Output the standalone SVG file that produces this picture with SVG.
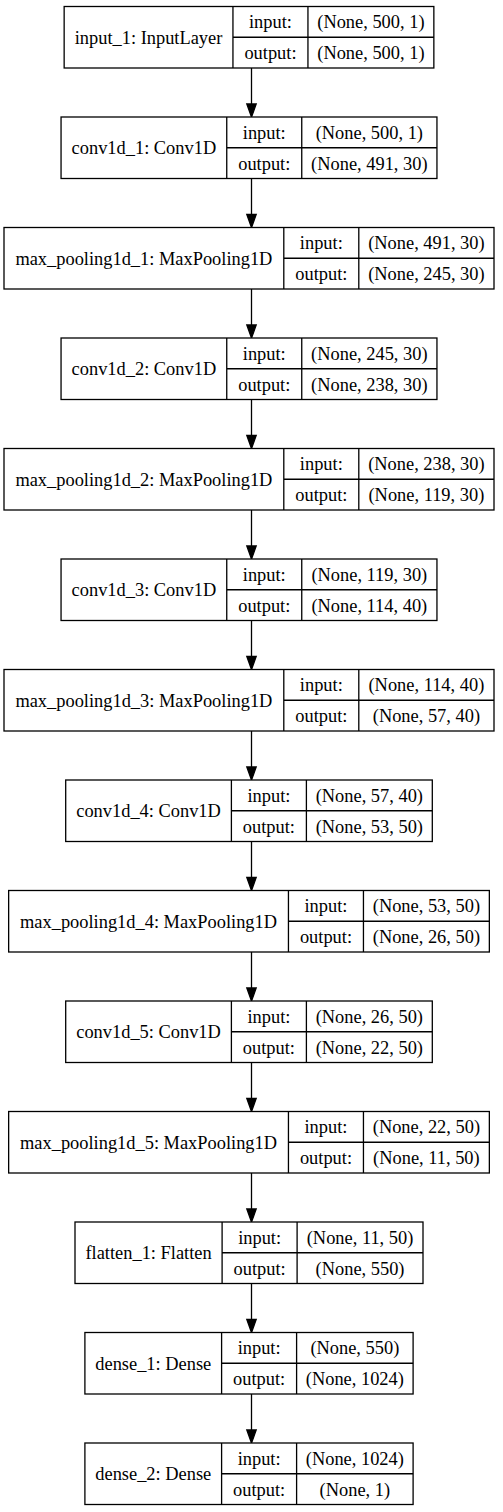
<svg xmlns="http://www.w3.org/2000/svg" width="503" height="1512" viewBox="0 0 503 1512">
<style>
.n rect{fill:#fff;stroke:#000;stroke-width:1.3}
.n path{fill:none;stroke:#000;stroke-width:1.3}
text{font-family:"Liberation Serif","Times New Roman",serif;font-size:18.4px;fill:#000;text-anchor:middle}
.e line{stroke:#000;stroke-width:1.3}
.e polygon{fill:#000;stroke:#000;stroke-width:1.3}
</style>
<rect width="503" height="1512" fill="#fff"/>
<g class="e" id="edges">
<line x1="251.5" y1="68" x2="251.5" y2="104"/><polygon points="246.8,104 256.2,104 251.5,117"/>
<line x1="251.5" y1="178.5" x2="251.5" y2="214.5"/><polygon points="246.8,214.5 256.2,214.5 251.5,227.5"/>
<line x1="251.5" y1="289" x2="251.5" y2="325"/><polygon points="246.8,325 256.2,325 251.5,338"/>
<line x1="251.5" y1="399.5" x2="251.5" y2="435.5"/><polygon points="246.8,435.5 256.2,435.5 251.5,448.5"/>
<line x1="251.5" y1="510" x2="251.5" y2="546"/><polygon points="246.8,546 256.2,546 251.5,559"/>
<line x1="251.5" y1="620.5" x2="251.5" y2="656.5"/><polygon points="246.8,656.5 256.2,656.5 251.5,669.5"/>
<line x1="251.5" y1="731" x2="251.5" y2="767"/><polygon points="246.8,767 256.2,767 251.5,780"/>
<line x1="251.5" y1="841.5" x2="251.5" y2="877.5"/><polygon points="246.8,877.5 256.2,877.5 251.5,890.5"/>
<line x1="251.5" y1="952" x2="251.5" y2="988"/><polygon points="246.8,988 256.2,988 251.5,1001"/>
<line x1="251.5" y1="1062.5" x2="251.5" y2="1098.5"/><polygon points="246.8,1098.5 256.2,1098.5 251.5,1111.5"/>
<line x1="251.5" y1="1173" x2="251.5" y2="1209"/><polygon points="246.8,1209 256.2,1209 251.5,1222"/>
<line x1="251.5" y1="1283.5" x2="251.5" y2="1319.5"/><polygon points="246.8,1319.5 256.2,1319.5 251.5,1332.5"/>
<line x1="251.5" y1="1394" x2="251.5" y2="1430"/><polygon points="246.8,1430 256.2,1430 251.5,1443"/>
</g>

<g class="n" id="input_1">
<rect x="64.15" y="6.5" width="369.7" height="61.5"/>
<path d="M232.95,6.5V68M307.95,6.5V68M232.95,37.25H433.85"/>
<text x="148.55" y="43.5">input_1: InputLayer</text>
<text x="270.45" y="28">input:</text><text x="270.45" y="59">output:</text>
<text x="370.9" y="28">(None, 500, 1)</text><text x="370.9" y="59">(None, 500, 1)</text>
</g>

<g class="n" id="conv1d_1">
<rect x="61.05" y="117" width="375.9" height="61.5"/>
<path d="M226.75,117V178.5M301.75,117V178.5M226.75,147.75H436.95"/>
<text x="143.9" y="154">conv1d_1: Conv1D</text>
<text x="264.25" y="138.5">input:</text><text x="264.25" y="169.5">output:</text>
<text x="369.35" y="138.5">(None, 500, 1)</text><text x="369.35" y="169.5">(None, 491, 30)</text>
</g>

<g class="n" id="max_pooling1d_1">
<rect x="4" y="227.5" width="490" height="61.5"/>
<path d="M283.8,227.5V289M358.8,227.5V289M283.8,258.25H494"/>
<text x="143.9" y="264.5">max_pooling1d_1: MaxPooling1D</text>
<text x="321.3" y="249">input:</text><text x="321.3" y="280">output:</text>
<text x="426.4" y="249">(None, 491, 30)</text><text x="426.4" y="280">(None, 245, 30)</text>
</g>

<g class="n" id="conv1d_2">
<rect x="61.05" y="338" width="375.9" height="61.5"/>
<path d="M226.75,338V399.5M301.75,338V399.5M226.75,368.75H436.95"/>
<text x="143.9" y="375">conv1d_2: Conv1D</text>
<text x="264.25" y="359.5">input:</text><text x="264.25" y="390.5">output:</text>
<text x="369.35" y="359.5">(None, 245, 30)</text><text x="369.35" y="390.5">(None, 238, 30)</text>
</g>

<g class="n" id="max_pooling1d_2">
<rect x="4" y="448.5" width="490" height="61.5"/>
<path d="M283.8,448.5V510M358.8,448.5V510M283.8,479.25H494"/>
<text x="143.9" y="485.5">max_pooling1d_2: MaxPooling1D</text>
<text x="321.3" y="470">input:</text><text x="321.3" y="501">output:</text>
<text x="426.4" y="470">(None, 238, 30)</text><text x="426.4" y="501">(None, 119, 30)</text>
</g>

<g class="n" id="conv1d_3">
<rect x="61.05" y="559" width="375.9" height="61.5"/>
<path d="M226.75,559V620.5M301.75,559V620.5M226.75,589.75H436.95"/>
<text x="143.9" y="596">conv1d_3: Conv1D</text>
<text x="264.25" y="580.5">input:</text><text x="264.25" y="611.5">output:</text>
<text x="369.35" y="580.5">(None, 119, 30)</text><text x="369.35" y="611.5">(None, 114, 40)</text>
</g>

<g class="n" id="max_pooling1d_3">
<rect x="4" y="669.5" width="490" height="61.5"/>
<path d="M283.8,669.5V731M358.8,669.5V731M283.8,700.25H494"/>
<text x="143.9" y="706.5">max_pooling1d_3: MaxPooling1D</text>
<text x="321.3" y="691">input:</text><text x="321.3" y="722">output:</text>
<text x="426.4" y="691">(None, 114, 40)</text><text x="426.4" y="722">(None, 57, 40)</text>
</g>

<g class="n" id="conv1d_4">
<rect x="65.7" y="780" width="366.6" height="61.5"/>
<path d="M231.4,780V841.5M306.4,780V841.5M231.4,810.75H432.3"/>
<text x="148.55" y="817">conv1d_4: Conv1D</text>
<text x="268.9" y="801.5">input:</text><text x="268.9" y="832.5">output:</text>
<text x="369.35" y="801.5">(None, 57, 40)</text><text x="369.35" y="832.5">(None, 53, 50)</text>
</g>

<g class="n" id="max_pooling1d_4">
<rect x="8.65" y="890.5" width="480.7" height="61.5"/>
<path d="M288.45,890.5V952M363.45,890.5V952M288.45,921.25H489.35"/>
<text x="148.55" y="927.5">max_pooling1d_4: MaxPooling1D</text>
<text x="325.95" y="912">input:</text><text x="325.95" y="943">output:</text>
<text x="426.4" y="912">(None, 53, 50)</text><text x="426.4" y="943">(None, 26, 50)</text>
</g>

<g class="n" id="conv1d_5">
<rect x="65.7" y="1001" width="366.6" height="61.5"/>
<path d="M231.4,1001V1062.5M306.4,1001V1062.5M231.4,1031.75H432.3"/>
<text x="148.55" y="1038">conv1d_5: Conv1D</text>
<text x="268.9" y="1022.5">input:</text><text x="268.9" y="1053.5">output:</text>
<text x="369.35" y="1022.5">(None, 26, 50)</text><text x="369.35" y="1053.5">(None, 22, 50)</text>
</g>

<g class="n" id="max_pooling1d_5">
<rect x="8.65" y="1111.5" width="480.7" height="61.5"/>
<path d="M288.45,1111.5V1173M363.45,1111.5V1173M288.45,1142.25H489.35"/>
<text x="148.55" y="1148.5">max_pooling1d_5: MaxPooling1D</text>
<text x="325.95" y="1133">input:</text><text x="325.95" y="1164">output:</text>
<text x="426.4" y="1133">(None, 22, 50)</text><text x="426.4" y="1164">(None, 11, 50)</text>
</g>

<g class="n" id="flatten_1">
<rect x="75" y="1222" width="348" height="61.5"/>
<path d="M222.1,1222V1283.5M297.1,1222V1283.5M222.1,1252.75H423"/>
<text x="148.55" y="1259">flatten_1: Flatten</text>
<text x="259.6" y="1243.5">input:</text><text x="259.6" y="1274.5">output:</text>
<text x="360.05" y="1243.5">(None, 11, 50)</text><text x="360.05" y="1274.5">(None, 550)</text>
</g>

<g class="n" id="dense_1">
<rect x="84.9" y="1332.5" width="328.2" height="61.5"/>
<path d="M221.6,1332.5V1394M296.6,1332.5V1394M221.6,1363.25H413.1"/>
<text x="153.25" y="1369.5">dense_1: Dense</text>
<text x="259.1" y="1354">input:</text><text x="259.1" y="1385">output:</text>
<text x="354.85" y="1354">(None, 550)</text><text x="354.85" y="1385">(None, 1024)</text>
</g>

<g class="n" id="dense_2">
<rect x="84.9" y="1443" width="328.2" height="61.5"/>
<path d="M221.6,1443V1504.5M296.6,1443V1504.5M221.6,1473.75H413.1"/>
<text x="153.25" y="1480">dense_2: Dense</text>
<text x="259.1" y="1464.5">input:</text><text x="259.1" y="1495.5">output:</text>
<text x="354.85" y="1464.5">(None, 1024)</text><text x="354.85" y="1495.5">(None, 1)</text>
</g>
</svg>
